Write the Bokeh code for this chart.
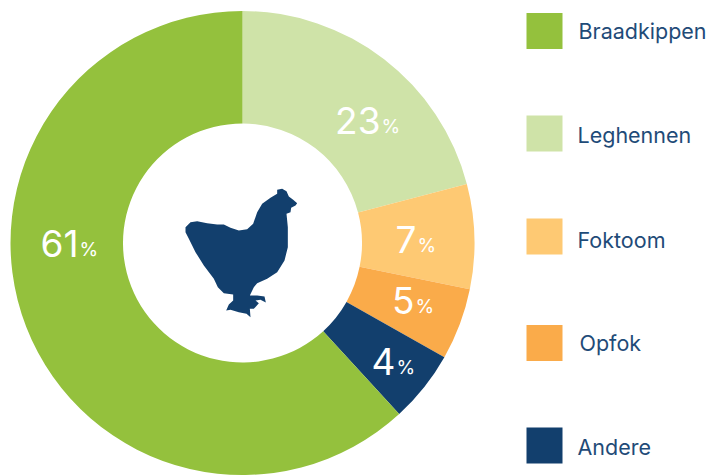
from math import pi
from bokeh.embed import file_html
from bokeh.resources import INLINE
from bokeh.plotting import figure
from bokeh.models import Range1d
from bokeh.core.properties import value

categories = ["Braadkippen", "Leghennen", "Foktoom", "Opfok", "Andere"]
# Slice sizes as drawn in the picture (they differ a little from the printed labels)
drawn_shares = [61.8, 20.9, 7.3, 5.0, 5.0]
printed_labels = ["61", "23", "7", "5", "4"]
colors = ["#94C13D", "#CFE3A8", "#FEC973", "#FAAB4A", "#123F6D"]

W, H = 710, 475
CX, CY, R_OUT, R_IN = 242, 242.5, 232, 119.5

def py(y): return H - y

p = figure(width=W, height=H, output_backend="svg", toolbar_location=None,
           x_range=Range1d(0, W), y_range=Range1d(0, H), min_border=0,
           outline_line_color=None, background_fill_color="white")
p.axis.visible = False
p.grid.visible = False

start = 0.0
starts, ends = [], []
for s in drawn_shares[1:] + drawn_shares[:1]:
    starts.append(start); start += s; ends.append(start)
cols = colors[1:] + colors[:1]
to_ang = lambda s: pi / 2 - s / 100 * 2 * pi
p.annular_wedge(x=[CX] * 5, y=[py(CY)] * 5, inner_radius=R_IN, outer_radius=R_OUT,
                start_angle=[to_ang(e) for e in ends], end_angle=[to_ang(s) for s in starts],
                fill_color=cols, line_color=None)

label_anchor = {"61": (78, 243), "23": (380, 120), "7": (416, 239), "5": (414, 300), "4": (395, 361)}
for lab in printed_labels:
    ax, ay = label_anchor[lab]
    p.text(x=[ax], y=[py(ay)], text=[lab], text_color="white", text_font=value("Inter"),
           text_font_size="37px", text_font_style="normal", text_align="right", text_baseline="middle")
    p.text(x=[ax + 1], y=[py(ay + 6)], text=["%"], text_color="white", text_font=value("Inter"),
           text_font_size="19px", text_align="left", text_baseline="middle")

icon_x = [75,90,110,140,170,190,210,235,260,278,290,305,330,350,350,365,378,385,398,410,405,392,390,378,382,382,372,350,320,290,280,268,290,312,316,300,285,295,280,268,270,258,235,210,197,205,218,218,190,172,160,130,105,85,75]
icon_y = [170,155,152,158,162,162,172,180,176,160,125,100,82,70,58,55,62,78,88,98,105,112,125,130,170,230,270,305,325,338,350,375,375,378,396,388,390,398,415,415,440,430,425,418,420,402,390,372,368,350,325,285,245,205,185]
p.patch([160 + v / 3 for v in icon_x], [py(170 + v / 3) for v in icon_y],
        fill_color=colors[4], line_color=None)

leg_y = [30.5, 133, 236, 342.5, 445]
leg_tx = [578, 577, 577, 579, 577]
leg_ty = [30, 134, 239, 342, 446]
p.rect(x=[544] * 5, y=[py(v) for v in leg_y], width=36, height=36, fill_color=colors, line_color=None)
p.text(x=leg_tx, y=[py(v) for v in leg_ty], text=categories, text_color="#1F4B78",
       text_font=value("Inter"), text_font_size="21.5px", text_align="left", text_baseline="middle")

open("out.html", "w").write(file_html(p, INLINE))
